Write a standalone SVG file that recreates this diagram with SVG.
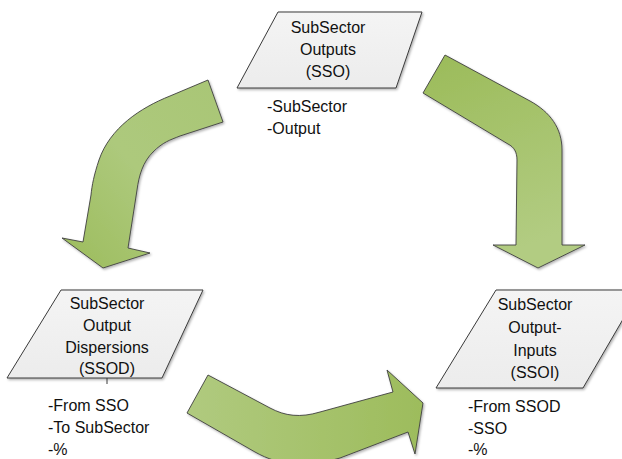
<svg xmlns="http://www.w3.org/2000/svg" width="622" height="459" viewBox="0 0 622 459">
  <style>
    .shape { fill: url(#dataFill); stroke: #3a3a3a; stroke-width: 1; filter: url(#soft); }
    .arrow { stroke: #3f3f3f; stroke-width: 0.9; stroke-linejoin: miter; filter: url(#soft); }
    text { font-family: "Liberation Sans", Arial, sans-serif; font-size: 16px; fill: #111; }
    .c { text-anchor: middle; }
  </style>
  <defs>
    <filter id="soft" x="-10%" y="-10%" width="130%" height="130%">
      <feDropShadow dx="1.2" dy="1.5" stdDeviation="1.2" flood-color="#000" flood-opacity="0.3"/>
    </filter>
    <linearGradient id="dataFill" x1="0" y1="0" x2="0" y2="1">
      <stop offset="0" stop-color="#f4f4f4"/>
      <stop offset="1" stop-color="#ececec"/>
    </linearGradient>
    <linearGradient id="gLeft" x1="1" y1="0" x2="0" y2="1">
      <stop offset="0" stop-color="#a9c676"/>
      <stop offset="0.5" stop-color="#adc97c"/>
      <stop offset="1" stop-color="#9cbc5c"/>
    </linearGradient>
    <linearGradient id="gRight" x1="0" y1="0" x2="0.3" y2="1">
      <stop offset="0" stop-color="#9bbb59"/>
      <stop offset="1" stop-color="#b2cc82"/>
    </linearGradient>
    <linearGradient id="gBottom" x1="0" y1="0.5" x2="1" y2="0.5">
      <stop offset="0" stop-color="#b0ca7f"/>
      <stop offset="1" stop-color="#9dbc5c"/>
    </linearGradient>
  </defs>

  <rect width="622" height="459" fill="#ffffff"/>

  <!-- flow arrows between the data sets -->
  <g id="connectors">
    <path class="arrow" fill="url(#gLeft)" d="M208,80 L170,96 C140,108 110,128 99,160 C94,175 92,185 91,195 L83,242 L62,238 L103,268 L150,253 L128,248 L137,190 C139,175 143,162 153,152 C163,142 170,140 180,136 L223,122 Z"/>
    <path class="arrow" fill="url(#gRight)" d="M445,55 L530,101 C550,112 562,128 562,150 L562,245 L585,245 L538,268 L493,245 L516,245 L517,160 C517,152 514,147 508,144 L423,93 Z"/>
    <path class="arrow" fill="url(#gBottom)" d="M208,375 L270,408 C285,416 300,418 320,412 L393,392 L387,370 L423,403 L415,454 L408,432 L340,458 C305,468 280,466 255,452 L187,413 Z"/>
  </g>

  <g id="sso">
    <polygon class="shape" points="278,12 422,12 396,88 237,88"/>
    <text class="c" x="328" y="33">SubSector</text>
    <text class="c" x="328" y="55">Outputs</text>
    <text class="c" x="328" y="77">(SSO)</text>
    <text x="267" y="112">-SubSector</text>
    <text x="267" y="134">-Output</text>
  </g>

  <g id="ssod">
    <polygon class="shape" points="61,290 203,290 162,378 7,378"/>
    <line x1="107" y1="378" x2="107" y2="384" stroke="#3a3a3a" stroke-width="1"/>
    <text class="c" x="107" y="309">SubSector</text>
    <text class="c" x="107" y="331">Output</text>
    <text class="c" x="107" y="353">Dispersions</text>
    <text class="c" x="107" y="374">(SSOD)</text>
    <text x="48" y="411">-From SSO</text>
    <text x="48" y="433">-To SubSector</text>
    <text x="48" y="455">-%</text>
  </g>

  <g id="ssoi">
    <polygon class="shape" points="496,290 640,290 583,388 436,388"/>
    <text class="c" x="535" y="310">SubSector</text>
    <text class="c" x="535" y="333">Output-</text>
    <text class="c" x="535" y="356">Inputs</text>
    <text class="c" x="535" y="378">(SSOI)</text>
    <text x="468" y="412">-From SSOD</text>
    <text x="468" y="434">-SSO</text>
    <text x="468" y="455">-%</text>
  </g>
</svg>
